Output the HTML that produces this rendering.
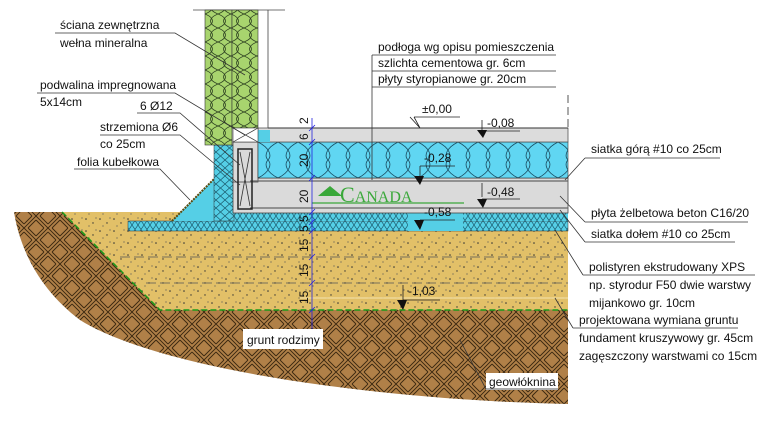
<!DOCTYPE html>
<html><head><meta charset="utf-8"><style>
html,body{margin:0;padding:0;background:#fff;}
svg{display:block;}
text{font-family:"Liberation Sans",sans-serif;font-size:12px;fill:#111;}
</style></head><body>
<svg width="776" height="427" viewBox="0 0 776 427" xmlns="http://www.w3.org/2000/svg">
<defs>
<pattern id="soil" width="24" height="24" patternUnits="userSpaceOnUse">
<rect width="24" height="24" fill="#b08048"/>
<path d="M0 12 L12 0 M4 12 L12 4 M0 8 L8 0 M12 24 L24 12 M16 24 L24 16 M12 20 L20 12 M12 0 L24 12 M16 0 L24 8 M12 4 L20 12 M0 12 L12 24 M0 16 L8 24 M4 12 L12 20" stroke="#3a2710" stroke-width="0.9"/>
</pattern>
<pattern id="sand" width="14" height="12" patternUnits="userSpaceOnUse">
<rect width="14" height="12" fill="#e2c068"/>
<circle cx="2" cy="3" r="0.8" fill="#333"/><circle cx="9" cy="7" r="0.7" fill="#333"/><circle cx="5" cy="10" r="0.6" fill="#555"/><circle cx="12" cy="2" r="0.6" fill="#555"/>
</pattern>
<pattern id="xps" width="6" height="9" patternUnits="userSpaceOnUse">
<rect width="6" height="9" fill="#55cfe6"/>
<path d="M0 0 L3 4.5 L6 0 M0 9 L3 4.5 L6 9" stroke="#1c5d70" stroke-width="0.7" fill="none"/>
</pattern>
<pattern id="xpsv" width="9" height="8" patternUnits="userSpaceOnUse">
<rect width="9" height="8" fill="#55cfe6"/>
<path d="M0 0 L9 8 M9 0 L0 8" stroke="#1c5d70" stroke-width="0.7"/>
</pattern>
<pattern id="styro" width="20" height="36" patternUnits="userSpaceOnUse" x="258" y="142">
<rect width="20" height="36" fill="#60d6f2"/>
<path d="M0 0 C12 6 14 14 10 18 C6 22 8 30 20 36 M20 0 C8 6 6 14 10 18 C14 22 12 30 0 36" stroke="#1a4c60" stroke-width="0.8" fill="none"/>
</pattern>
<pattern id="wool" width="13" height="14" patternUnits="userSpaceOnUse" x="205">
<rect width="13" height="14" fill="#a8d46e"/>
<path d="M0 0 C10 4 10 10 0 14 M13 0 C3 4 3 10 13 14" stroke="#2c4020" stroke-width="0.8" fill="none"/>
</pattern>
</defs>

<path d="M14 212 L568 212 L568 404 C380 400 160 370 80 320 C40 290 20 250 14 212 Z" fill="url(#soil)"/>
<path d="M62 212 L568 212 L568 310 L160 310 Z" fill="url(#sand)"/>
<path d="M62 212 L160 310 L568 310" stroke="#1a9a1a" stroke-width="1.5" stroke-dasharray="6 3" fill="none"/>
<path d="M120 257 L568 257 M146 283 L568 283" stroke="#555" stroke-width="0.8" stroke-dasharray="10 4" fill="none"/>
<line x1="300" y1="298" x2="568" y2="298" stroke="#f4e4b0" stroke-width="1"/>

<rect x="128" y="221" width="440" height="10" fill="url(#xps)" stroke="#333" stroke-width="0.5"/>
<rect x="233" y="212" width="175" height="9" fill="url(#xps)"/>
<rect x="408" y="212" width="55" height="19" fill="#55cfe6"/>
<rect x="463" y="212" width="105" height="9" fill="url(#xps)"/>
<path d="M172 221 L214 179 L214 221 Z" fill="#55cfe6"/>
<path d="M172 221 L214 179" stroke="#5a4a10" stroke-width="2" stroke-dasharray="2 1"/>
<rect x="214" y="145" width="20" height="76" fill="url(#xpsv)" stroke="#333" stroke-width="0.5"/>

<rect x="233" y="178" width="335" height="35" fill="#dadada" stroke="#444" stroke-width="0.8"/>
<rect x="233" y="142" width="25" height="40" fill="#dadada" stroke="#444" stroke-width="0.8"/>
<line x1="250" y1="181" x2="568" y2="181" stroke="#666" stroke-width="1.2"/>
<line x1="250" y1="208" x2="568" y2="208" stroke="#666" stroke-width="1.2"/>
<rect x="238" y="149" width="14" height="60" fill="none" stroke="#222" stroke-width="1.5"/>
<path d="M240 152 L250 206 M250 152 L240 206" stroke="#333" stroke-width="0.8"/>
<rect x="258" y="142" width="310" height="36" fill="url(#styro)" stroke="#333" stroke-width="0.6"/>
<rect x="258" y="128" width="310" height="14" fill="#dcdcdc" stroke="#555" stroke-width="0.8"/>
<line x1="268" y1="128" x2="568" y2="128" stroke="#333" stroke-width="1"/>
<rect x="258" y="130" width="12" height="12" fill="#55cfe6"/>

<line x1="193" y1="10" x2="285" y2="10" stroke="#444" stroke-width="0.8"/>
<rect x="205" y="10" width="27" height="135" fill="url(#wool)" stroke="#333" stroke-width="0.6"/>
<rect x="232" y="10" width="26" height="118" fill="url(#wool)" stroke="#333" stroke-width="0.6"/>
<line x1="268" y1="10" x2="268" y2="128" stroke="#444" stroke-width="0.8"/>
<rect x="233" y="128" width="25" height="14" fill="#fff" stroke="#333" stroke-width="0.6"/>
<path d="M233 128 L258 142 M258 128 L233 142" stroke="#333" stroke-width="0.7"/>

<path d="M318 196 L330 186 L342 196 Z" fill="#3aa83a"/>
<text x="340" y="202" style="font-family:'Liberation Serif',serif;font-size:22px;fill:#3aa83a;">C<tspan style="font-size:16px">ANADA</tspan></text>
<line x1="312" y1="203" x2="464" y2="203" stroke="#3aa83a" stroke-width="1.2"/>

<line x1="312" y1="118" x2="312" y2="330" stroke="#2222dd" stroke-width="0.8"/>
<g stroke="#2222dd" stroke-width="0.8">
<path d="M309 131 L315 125 M309 145 L315 139 M309 181 L315 175 M309 215 L315 209 M309 225 L315 219 M309 234 L315 228 M309 260 L315 254 M309 286 L315 280 M309 313 L315 307"/>
</g>
<g style="font-size:11px">
<text transform="translate(308,124) rotate(-90)">2</text>
<text transform="translate(308,140) rotate(-90)">6</text>
<text transform="translate(308,167) rotate(-90)">20</text>
<text transform="translate(308,203) rotate(-90)">20</text>
<text transform="translate(308,232) rotate(-90)">5 5</text>
<text transform="translate(308,252) rotate(-90)">15</text>
<text transform="translate(308,277) rotate(-90)">15</text>
<text transform="translate(308,304) rotate(-90)">15</text>
</g>

<g stroke="#222" stroke-width="0.8" fill="none">
<path d="M414 117 L460 117 M414 117 L420 128 L410 117"/>
<path d="M482 120 L482 132 M482 131 L520 131"/>
<path d="M420 166 L455 166 M420 166 L420 176"/>
<path d="M482 183 L482 197 M482 199 L520 199"/>
<path d="M420 220 L455 220"/>
<path d="M403 285 L403 305 M403 300 L440 300"/>
</g>
<g fill="#111">
<path d="M477 130 L487 130 L483 138 Z"/>
<path d="M414 176 L424 176 L420 185 Z"/>
<path d="M477 199 L487 199 L483 208 Z"/>
<path d="M414 220 L424 220 L420 230 Z"/>
<path d="M397 300 L407 300 L403 310 Z"/>
</g>
<text x="422" y="113">±0,00</text>
<text x="487" y="127">-0,08</text>
<text x="424" y="162">-0,28</text>
<text x="487" y="196">-0,48</text>
<text x="424" y="216">-0,58</text>
<text x="408" y="295">-1,03</text>

<rect x="243" y="329" width="80" height="20" fill="#fff"/>
<text x="247" y="344">grunt rodzimy</text>
<rect x="486" y="373" width="72" height="17" fill="#fff"/>
<text x="489" y="386">geowłóknina</text>
<line x1="486" y1="389" x2="558" y2="389" stroke="#222" stroke-width="0.8"/>

<g stroke="#333" stroke-width="0.8" fill="none">
<path d="M55 33 L175 33 L245 75"/>
<path d="M37 93 L175 93 L245 135"/>
<path d="M137 113 L180 113 L240 165"/>
<path d="M100 135 L180 135 L240 185"/>
<path d="M74 169 L160 169 L190 200"/>
<path d="M372 55 L556 55 M372 71 L556 71 M372 87 L556 87 M372 55 L372 180"/>
<path d="M585 158 L720 158 M585 158 L565 180"/>
<path d="M585 222 L748 222 M585 222 L560 196"/>
<path d="M585 242 L735 242 M585 242 L560 210"/>
<path d="M583 275 L755 275 M583 275 L555 230"/>
<path d="M573 328 L738 328 M573 328 L555 298"/>
<path d="M486 389 L460 340"/>
</g>
<line x1="568" y1="95" x2="568" y2="128" stroke="#555" stroke-dasharray="8 4"/>

<text x="60" y="29">ściana zewnętrzna</text>
<text x="60" y="47">wełna mineralna</text>
<text x="40" y="89">podwalina impregnowana</text>
<text x="40" y="106">5x14cm</text>
<text x="140" y="110">6 Ø12</text>
<text x="100" y="131">strzemiona Ø6</text>
<text x="100" y="148">co 25cm</text>
<text x="77" y="166">folia kubełkowa</text>
<text x="378" y="51">podłoga wg opisu pomieszczenia</text>
<text x="378" y="67">szlichta cementowa gr. 6cm</text>
<text x="378" y="83">płyty styropianowe gr. 20cm</text>
<text x="591" y="153">siatka górą #10 co 25cm</text>
<text x="591" y="217">płyta żelbetowa beton C16/20</text>
<text x="591" y="238">siatka dołem #10 co 25cm</text>
<text x="589" y="271">polistyren ekstrudowany XPS</text>
<text x="589" y="289">np. styrodur F50 dwie warstwy</text>
<text x="589" y="307">mijankowo gr. 10cm</text>
<text x="579" y="324">projektowana wymiana gruntu</text>
<text x="579" y="342">fundament kruszywowy gr. 45cm</text>
<text x="579" y="360">zagęszczony warstwami co 15cm</text>
</svg>
</body></html>
